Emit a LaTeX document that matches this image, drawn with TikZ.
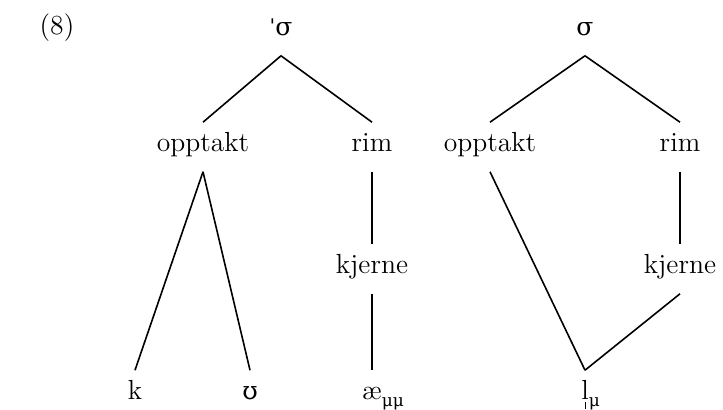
\documentclass[tikz,border=0pt]{standalone}
\usepackage{fontspec}
\newfontfamily\ipafont{DejaVu Serif}
\newcommand{\syll}[1]{#1\makebox[0pt][r]{\raisebox{-0.32em}{\rule{0.6pt}{0.25em}}\hspace{0.11em}}}
\newcommand{\gr}[1]{{\ipafont\fontsize{12.5}{14}\selectfont #1}}
\newcommand{\mora}[1]{\raisebox{-0.25em}{\ipafont\fontsize{8.5}{9}\selectfont #1}}

\begin{document}
\begin{tikzpicture}[x=0.5pt,y=-0.5pt,line width=0.8pt]
      \tikzstyle{every node}+=[inner sep=0pt,anchor=base,text height=14.5pt,text depth=9.5pt,font=\fontsize{13.8}{16}\selectfont]
      \useasboundingbox (0,0) rectangle (723,410);
      \node (ex) at (57,35) {(8)};
      % first syllable
      \node (sa) at (281,36) {{\ipafont\fontsize{11}{11}\selectfont ˈ}\gr{σ}};
      \node (oa) at (203,152) {opptakt};
      \node (ra) at (372,152) {rim};
      \node (ka) at (372,274) {kjerne};
      \node (k) at (135,400) {k};
      \node (u) at (250,400) {\gr{ʊ}};
      \node (ae) at (372,400) {æ\rlap{\mora{μμ}}};
      \draw (sa.south) -- (oa.north);
      \draw (sa.south) -- (ra.north);
      \draw (oa.south) -- (k.north);
      \draw (oa.south) -- (u.north);
      \draw (ra.south) -- (ka.north);
      \draw (ka.south) -- (ae.north);
      % second syllable
      \node (sb) at (585,36) {\gr{σ}};
      \node (ob) at (490,152) {opptakt};
      \node (rb) at (680,152) {rim};
      \node (kb) at (680,274) {kjerne};
      \node (l) at (585,400) {\syll{l}\rlap{\mora{μ}}};
      \draw (sb.south) -- (ob.north);
      \draw (sb.south) -- (rb.north);
      \draw (ob.south) -- (l.north);
      \draw (rb.south) -- (kb.north);
      \draw (kb.south) -- (l.north);
\end{tikzpicture}
\end{document}
